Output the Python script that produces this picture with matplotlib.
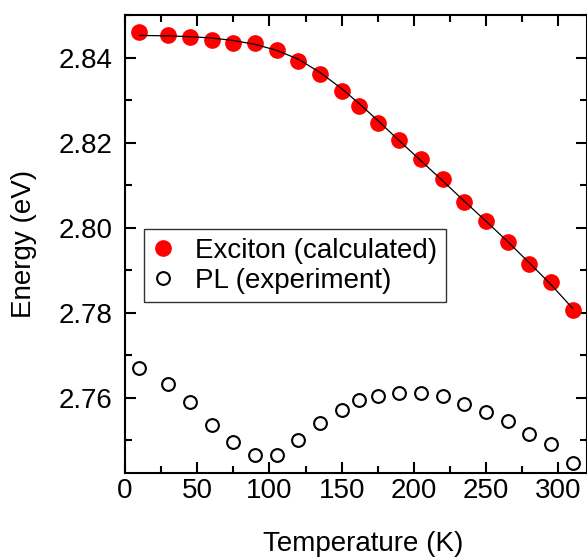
import numpy as np
import matplotlib
matplotlib.use("Agg")
import matplotlib.pyplot as plt
from matplotlib.ticker import MultipleLocator, FormatStrFormatter

plt.rcParams['font.family'] = ['Liberation Sans', 'DejaVu Sans']

# temperatures (K)
temp = [10, 30, 45, 60, 75, 90, 105, 120, 135, 150, 162, 175, 190, 205, 220,
        235, 250, 265, 280, 295, 310]

# exciton energy, calculated (eV)
exciton = [2.8461, 2.8454, 2.8448, 2.8441, 2.8435, 2.8434, 2.8417, 2.8392,
           2.8361, 2.8322, 2.8286, 2.8245, 2.8205, 2.8162, 2.8115, 2.8061,
           2.8016, 2.7967, 2.7914, 2.7872, 2.7806]

# fitted curve through the exciton points
fit_E = [2.8452, 2.8451, 2.8449, 2.8446, 2.8440, 2.8431, 2.8417, 2.8396,
         2.8365, 2.8327, 2.8292, 2.8252, 2.8204, 2.8157, 2.8110, 2.8062,
         2.8015, 2.7967, 2.7917, 2.7866, 2.7810]

# PL peak energy, experiment (eV)
pl = [2.7669, 2.7633, 2.7590, 2.7536, 2.7497, 2.7465, 2.7465, 2.7501,
      2.7540, 2.7571, 2.7594, 2.7604, 2.7611, 2.7611, 2.7604, 2.7585,
      2.7567, 2.7545, 2.7515, 2.7491, 2.7447]

fs = 20

fig = plt.figure(figsize=(5.87, 5.58), dpi=100)
ax = fig.add_axes([125 / 587, 1 - 472.7 / 558, 461.5 / 587, 457.7 / 558])

ax.plot(temp, exciton, 'o', color='red', ms=11, mec='red', zorder=2,
        label='Exciton (calculated)')
ax.plot(temp, fit_E, '-', color='black', lw=0.9, zorder=3)
ax.plot(temp, pl, 'o', mfc='white', mec='black', ms=9.2, mew=1.5, zorder=2,
        label='PL (experiment)')

ax.set_xlim(0, 319.5)
ax.set_ylim(2.7424, 2.850)

ax.xaxis.set_major_locator(MultipleLocator(50))
ax.xaxis.set_minor_locator(MultipleLocator(25))
ax.yaxis.set_major_locator(MultipleLocator(0.02))
ax.yaxis.set_minor_locator(MultipleLocator(0.01))
ax.yaxis.set_major_formatter(FormatStrFormatter('%.2f'))

ax.tick_params(which='both', direction='in', top=True, right=True,
               width=1.5, labelsize=fs)
ax.tick_params(which='major', length=8)
ax.tick_params(which='minor', length=4.8)
ax.tick_params(axis='x', pad=4)
ax.tick_params(axis='y', pad=9)
for s in ax.spines.values():
    s.set_linewidth(1.5)

ax.set_xlabel('Temperature (K)', fontsize=fs)
ax.set_ylabel('Energy (eV)', fontsize=fs)
ax.xaxis.set_label_coords(0.517, -0.128)
ax.yaxis.set_label_coords(-0.19, 0.5)

leg = ax.legend(loc='upper left', bbox_to_anchor=(0.041, 0.532),
                borderaxespad=0, fontsize=fs, frameon=True, fancybox=False,
                edgecolor='black', handlelength=0.8, handletextpad=0.75,
                borderpad=0.3, labelspacing=0.15, numpoints=1)
leg.get_frame().set_linewidth(1.0)

fig.savefig('out.png', dpi=100)
